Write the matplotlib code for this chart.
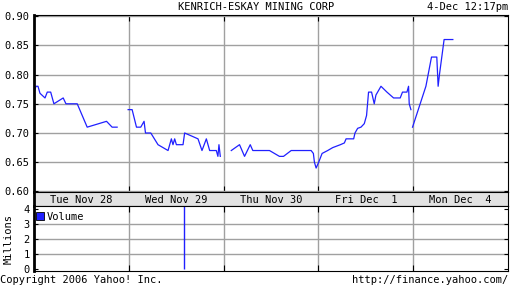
import numpy as np
import matplotlib
matplotlib.use('Agg')
import matplotlib.pyplot as plt

nan = np.nan

# time in trading days (0 = Tue open), price in $
days = [0.0, 0.021, 0.042, 0.063, 0.116, 0.14, 0.176, 0.21, 0.308, 0.337, 0.456,
        0.561, 0.765, 0.824, 0.877, 0.93,
        0.993, 1.035, 1.081, 1.126, 1.161, 1.176, 1.232, 1.308, 1.414, 1.449, 1.466,
        1.484, 1.502, 1.572, 1.589, 1.66, 1.73, 1.772, 1.818, 1.853, 1.923, 1.94,
        1.951, 1.965, 2.02,
        2.081, 2.168, 2.221, 2.281, 2.308, 2.484, 2.589, 2.632, 2.713, 2.923, 2.947,
        2.958, 2.976, 3.003, 3.039, 3.098, 3.151, 3.232, 3.274, 3.292, 3.372, 3.386,
        3.414, 3.449, 3.484, 3.508, 3.529, 3.561, 3.589, 3.607, 3.66, 3.723, 3.793,
        3.863, 3.887, 3.934, 3.951, 3.958, 3.976, 3.985,
        3.993, 4.134, 4.193, 4.249, 4.263, 4.277, 4.326, 4.418]
price = [0.77, 0.78, 0.78, 0.768, 0.76, 0.77, 0.77, 0.75, 0.76, 0.75, 0.75,
         0.71, 0.72, 0.71, 0.71, nan,
         0.74, 0.74, 0.71, 0.71, 0.72, 0.70, 0.70, 0.68, 0.67, 0.69, 0.68,
         0.69, 0.68, 0.68, 0.70, 0.695, 0.69, 0.67, 0.69, 0.67, 0.67, 0.66,
         0.68, 0.66, nan,
         0.67, 0.68, 0.66, 0.68, 0.67, 0.67, 0.66, 0.66, 0.67, 0.67, 0.665,
         0.65, 0.64, 0.65, 0.665, 0.67, 0.675, 0.68, 0.683, 0.69, 0.69, 0.70,
         0.708, 0.71, 0.716, 0.73, 0.77, 0.77, 0.75, 0.765, 0.78, 0.77, 0.76,
         0.76, 0.77, 0.77, 0.78, 0.75, 0.74, nan,
         0.71, 0.78, 0.83, 0.83, 0.78, 0.80, 0.86, 0.86]

vol_days = [1.58]
vol_millions = [4.5]

day_labels = ['Tue Nov 28', 'Wed Nov 29', 'Thu Nov 30', 'Fri Dec  1', 'Mon Dec  4']
price_ticks = [0.60, 0.65, 0.70, 0.75, 0.80, 0.85, 0.90]
vol_ticks = [0, 1, 2, 3, 4]

mono = 'DejaVu Sans Mono'
fs = 7.5
blue = '#2020ff'
grid_c = '#a0a0a0'

fig = plt.figure(figsize=(5.12, 2.88), dpi=100)
L, W = 34 / 512, 474 / 512

def frac(top, bottom):
    return [L, 1 - bottom / 288, W, (bottom - top) / 288]

ax = fig.add_axes(frac(15, 192))
ax.plot(days, price, color=blue, lw=0.9)
ax.set_xlim(0, 5)
ax.set_ylim(0.599, 0.902)
ax.set_yticks(price_ticks)
ax.set_yticklabels(['%.2f' % t for t in price_ticks], fontfamily=mono, fontsize=fs)
ax.set_xticks([1, 2, 3, 4])
ax.set_xticklabels([])
ax.grid(True, color=grid_c, lw=1)
ax.tick_params(axis='y', direction='in', length=3, right=True, pad=3)
ax.tick_params(axis='x', direction='in', length=4, bottom=True, top=True)
ax.spines['left'].set_linewidth(2)

# date strip
ax_d = fig.add_axes(frac(192, 206))
ax_d.set_facecolor('#e2e2e2')
ax_d.set_xlim(0, 5)
ax_d.set_ylim(0, 1)
ax_d.set_xticks([])
ax_d.set_yticks([])
for i, lab in enumerate(day_labels):
    ax_d.text(i + 0.5, 0.45, lab, ha='center', va='center', fontfamily=mono, fontsize=fs)
ax_d.spines['left'].set_linewidth(2)

# volume
ax_v = fig.add_axes(frac(206, 271))
ax_v.vlines(vol_days, 0, vol_millions, color=blue, lw=1)
ax_v.set_xlim(0, 5)
ax_v.set_ylim(-0.1, 4.2)
ax_v.set_yticks(vol_ticks)
ax_v.set_yticklabels([str(t) for t in vol_ticks], fontfamily=mono, fontsize=fs)
ax_v.set_xticks([1, 2, 3, 4])
ax_v.set_xticklabels([])
for t in vol_ticks[1:-1]:
    ax_v.axhline(t, color=grid_c, lw=1, zorder=0.5)
ax_v.grid(True, axis='x', color=grid_c, lw=1)
ax_v.tick_params(axis='y', direction='in', length=3, right=True, pad=3)
ax_v.tick_params(axis='x', direction='in', length=4, bottom=True, top=True)
ax_v.spines['left'].set_linewidth(2)
ax_v.set_ylabel('Millions', fontfamily=mono, fontsize=fs, labelpad=7)
ax_v.plot([0.06], [3.55], marker='s', ms=5.5, mfc=blue, mec='black', mew=0.6,
          ls='none', clip_on=False)
ax_v.text(0.13, 3.45, 'Volume', va='center', fontfamily=mono, fontsize=fs,
          bbox=dict(facecolor='white', edgecolor='none', pad=0.5))

fig.text(0.5, 1 - 7 / 288, 'KENRICH-ESKAY MINING CORP', ha='center', va='center',
         fontfamily=mono, fontsize=fs)
fig.text(508 / 512, 1 - 7 / 288, '4-Dec 12:17pm', ha='right', va='center',
         fontfamily=mono, fontsize=fs)
fig.text(0, 1 - 280 / 288, 'Copyright 2006 Yahoo! Inc.', ha='left', va='center',
         fontfamily=mono, fontsize=fs)
fig.text(508 / 512, 1 - 280 / 288, 'http://finance.yahoo.com/', ha='right', va='center',
         fontfamily=mono, fontsize=fs)

fig.savefig('out.png', dpi=100)
